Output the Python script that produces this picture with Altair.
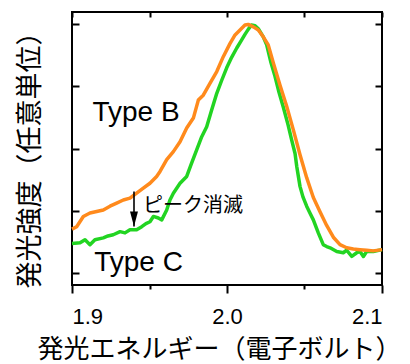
import altair as alt
import pandas as pd

# Type B (orange)
energy_b = [1.9000, 1.9030, 1.9073, 1.9116, 1.9159, 1.9202, 1.9245, 1.9288, 1.9331, 1.9374,
            1.9417, 1.9460, 1.9503, 1.9546, 1.9568, 1.9611, 1.9654, 1.9697, 1.9740, 1.9783,
            1.9815, 1.9847, 1.9890, 1.9934, 1.9976, 2.0019, 2.0052, 2.0084, 2.0116, 2.0137,
            2.0170, 2.0202, 2.0234, 2.0266, 2.0299, 2.0342, 2.0385, 2.0428, 2.0471, 2.0514,
            2.0557, 2.0600, 2.0643, 2.0686, 2.0729, 2.0772, 2.0815, 2.0858, 2.0901, 2.0944,
            2.1000]
intensity_b = [0.70, 0.74, 0.905, 0.96, 0.985, 1.01, 1.07, 1.12, 1.17, 1.20,
               1.28, 1.36, 1.44, 1.55, 1.63, 1.82, 1.95, 2.11, 2.33, 2.49,
               2.78, 2.86, 3.05, 3.24, 3.48, 3.69, 3.83, 3.91, 3.99, 4.00,
               3.96, 3.91, 3.80, 3.67, 3.38, 3.02, 2.68, 2.30, 1.90, 1.53,
               1.21, 0.98, 0.76, 0.57, 0.45, 0.40, 0.38, 0.37, 0.36, 0.35,
               0.37]

# Type C (green)
energy_c = [1.9000, 1.9052, 1.9084, 1.9116, 1.9148, 1.9202, 1.9232, 1.9266, 1.9310, 1.9342,
            1.9374, 1.9417, 1.9450, 1.9477, 1.9503, 1.9525, 1.9557, 1.9579, 1.9611, 1.9632,
            1.9654, 1.9697, 1.9740, 1.9768, 1.9805, 1.9837, 1.9869, 1.9901, 1.9934, 1.9966,
            1.9998, 2.0030, 2.0063, 2.0090, 2.0116, 2.0137, 2.0158, 2.0181, 2.0202, 2.0234,
            2.0256, 2.0284, 2.0310, 2.0335, 2.0363, 2.0394, 2.0417, 2.0439, 2.0450, 2.0471,
            2.0490, 2.0514, 2.0535, 2.0557, 2.0589, 2.0621, 2.0643, 2.0665, 2.0708, 2.0750,
            2.0772, 2.0805, 2.0837, 2.0858, 2.0880, 2.0901, 2.0944, 2.1000]
intensity_c = [0.47, 0.48, 0.53, 0.45, 0.53, 0.56, 0.59, 0.61, 0.66, 0.64,
               0.69, 0.69, 0.74, 0.79, 0.82, 0.905, 0.88, 0.85, 1.01, 1.17,
               1.28, 1.44, 1.55, 1.74, 1.98, 2.19, 2.35, 2.62, 2.89, 3.10,
               3.30, 3.47, 3.62, 3.73, 3.84, 3.92, 3.99, 3.98, 3.93, 3.80,
               3.67, 3.38, 3.16, 2.91, 2.67, 2.38, 2.14, 1.92, 1.71, 1.39,
               1.22, 1.07, 0.96, 0.85, 0.64, 0.45, 0.42, 0.40, 0.34, 0.32,
               0.36, 0.26, 0.32, 0.34, 0.26, 0.34, 0.34, 0.37]

x_ticks = [1.9, 1.95, 2.0, 2.05, 2.1]
y_ticks = [0, 1, 2, 3, 4]

type_labels = ["Type B", "Type C"]
type_label_x = [1.9413, 1.9429]
type_label_y = [2.44, 0.02]

peak_label = ["ピーク消滅"]
peak_label_x = [1.9458]
peak_label_y = [1.07]

arrow_x = [1.94]
arrow_top = [1.307]
arrow_tip = [0.744]

FONT = "Liberation Sans, Arial, Noto Sans CJK JP"
JFONT = "Noto Sans CJK JP"

df_b = pd.DataFrame({"E": energy_b, "I": intensity_b})
df_c = pd.DataFrame({"E": energy_c, "I": intensity_c})
df_types = pd.DataFrame({"E": type_label_x, "I": type_label_y, "t": type_labels})
df_peak = pd.DataFrame({"E": peak_label_x, "I": peak_label_y, "t": peak_label})
df_arrow = pd.DataFrame({"E": arrow_x, "I": arrow_top, "I2": arrow_tip})

xs = alt.Scale(domain=[1.9, 2.1], nice=False, zero=False)
ys = alt.Scale(domain=[-0.2, 4.2], nice=False, zero=False)

major_test = "round(datum.value*100) % 10 == 0"

# bottom axis: outward ticks, long at labelled values, short at minor values
x_bottom = alt.Axis(
    orient="bottom", values=x_ticks, domain=False, grid=False,
    tickSize={"condition": {"test": major_test, "value": 8}, "value": 4},
    tickWidth=2, tickColor="black",
    labelExpr=f"{major_test} ? format(datum.value, '.1f') : ''",
    labelFontSize=22, labelPadding=13, labelFont=FONT, labelColor="black",
    labelOverlap=False,
    title="発光エネルギー（電子ボルト）", titleFont=JFONT, titleFontSize=26,
    titleFontWeight="normal", titleColor="black", titlePadding=9, titleX=147,
)
y_left = alt.Axis(
    orient="left", values=y_ticks, domain=False, grid=False, labels=False,
    tickSize=7, tickWidth=2, tickColor="black", offset=-7,
    title="発光強度（任意単位）", titleFont=JFONT, titleFontSize=27,
    titleFontWeight="normal", titleColor="black", titlePadding=27, titleY=141,
)
x_top = alt.Axis(
    orient="top", values=x_ticks, domain=False, grid=False, labels=False,
    tickSize=5, tickWidth=2, tickColor="black", offset=-5, title=None,
)
y_right = alt.Axis(
    orient="right", values=y_ticks, domain=False, grid=False, labels=False,
    tickSize=7, tickWidth=2, tickColor="black", offset=-7, title=None,
)

green = alt.Chart(df_c).mark_line(color="#22D422", strokeWidth=3.5, strokeJoin="round").encode(
    x=alt.X("E:Q", scale=xs, axis=x_bottom),
    y=alt.Y("I:Q", scale=ys, axis=y_left),
)
orange = alt.Chart(df_b).mark_line(color="#FF8A1C", strokeWidth=3.5, strokeJoin="round").encode(
    x=alt.X("E:Q", scale=xs, axis=None),
    y=alt.Y("I:Q", scale=ys, axis=None),
)
types = alt.Chart(df_types).mark_text(
    font=FONT, fontSize=28, color="black", align="center", baseline="alphabetic"
).encode(
    x=alt.X("E:Q", scale=xs, axis=x_top),
    y=alt.Y("I:Q", scale=ys, axis=y_right),
    text="t:N",
)
peak = alt.Chart(df_peak).mark_text(
    font=JFONT, fontSize=20, color="black", align="left", baseline="middle"
).encode(
    x=alt.X("E:Q", scale=xs, axis=None),
    y=alt.Y("I:Q", scale=ys, axis=None),
    text="t:N",
)
arrow_rule = alt.Chart(df_arrow).mark_rule(color="black", strokeWidth=1.6).encode(
    x=alt.X("E:Q", scale=xs, axis=None),
    y=alt.Y("I:Q", scale=ys, axis=None),
    y2="I2:Q",
)
arrow_head = alt.Chart(df_arrow).mark_point(
    shape="M-0.53,-1L0.53,-1L0,1Z", size=225, filled=True, color="black", opacity=1, yOffset=-7.5
).encode(
    x=alt.X("E:Q", scale=xs, axis=None),
    y=alt.Y("I2:Q", scale=ys, axis=None),
)

chart = alt.layer(green, orange, types, peak, arrow_rule, arrow_head).resolve_axis(
    x="independent", y="independent"
).properties(
    width=310, height=273,
    padding={"left": 7, "top": 3, "right": 0, "bottom": 0},
    background="white",
).configure_view(stroke="black", strokeWidth=2)

chart.save("out.html", embed_options={"renderer": "svg", "actions": False})
